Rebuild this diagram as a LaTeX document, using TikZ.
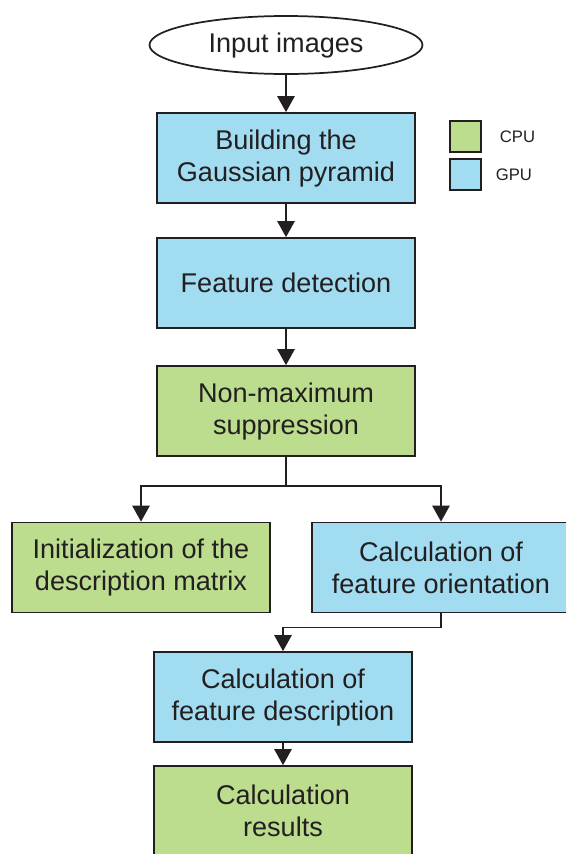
\documentclass[tikz,border=0pt]{standalone}
\usepackage{fontspec}
\setmainfont{Liberation Sans}
\usetikzlibrary{shapes.geometric,arrows.meta}

\definecolor{gpublue}{RGB}{161,220,240}
\definecolor{cpugreen}{RGB}{188,220,142}
\definecolor{inkgray}{RGB}{35,31,32}

\tikzset{every picture/.style={line width=1.3pt}}
\tikzset{
  stepbox/.style={draw=inkgray, rectangle, minimum width=193.5pt, minimum height=67.5pt,
    align=center, inner sep=0pt, text=inkgray, font=\fontsize{20.3}{24}\selectfont},
  gpubox/.style={stepbox, fill=gpublue},
  cpubox/.style={stepbox, fill=cpugreen},
  keybox/.style={draw=inkgray, minimum size=23.25pt, inner sep=0pt},
  keytext/.style={anchor=west, inner sep=0pt, text=inkgray, font=\fontsize{12.5}{15}\selectfont},
  arr/.style={draw=inkgray, -{Triangle[width=13pt,length=12pt]}}
}

\begin{document}
\begin{tikzpicture}[x=0.75pt,y=0.75pt,yscale=-1,xscale=1]
\useasboundingbox (0,0) rectangle (565,854);

% start
\node [ellipse, draw=inkgray, minimum width=204.75pt, minimum height=43.5pt, inner sep=0pt,
  text=inkgray, font=\fontsize{20.3}{24}\selectfont] (input) at (286,45) {Input images};

% GPU / CPU steps
\node [gpubox] (pyramid) at (286,158) {Building the\\Gaussian pyramid};
\node [gpubox] (detect) at (286,283) {Feature detection};
\node [cpubox] (nms) at (286,411) {Non-maximum\\suppression};
\node [cpubox] (initmat) at (141,567.5) {Initialization of the\\description matrix};
\node [gpubox] (orient) at (441,567.5) {Calculation of\\feature orientation};
\node [gpubox] (descr) at (283,697) {Calculation of\\feature description};
\node [cpubox] (result) at (283,811) {Calculation\\results};

% legend
\node [keybox, fill=cpugreen] (cpukey) at (465.5,136.5) {};
\node [keybox, fill=gpublue] (gpukey) at (465.5,174.5) {};
\node [keytext] (cpulabel) at (499,137) {CPU};
\node [keytext] (gpulabel) at (495,174.5) {GPU};

% connectors
\coordinate (split) at (286,486);
\draw [arr] (input) -- (pyramid);
\draw [arr] (pyramid) -- (detect);
\draw [arr] (detect) -- (nms);
\draw [draw=inkgray] (nms) -- (split);
\draw [arr] (split) -| (initmat);
\draw [arr] (split) -| (orient);
\draw [arr] (orient.south) -- ++(0,14) -| (descr);
\draw [arr] (descr) -- (result);

\end{tikzpicture}
\end{document}
